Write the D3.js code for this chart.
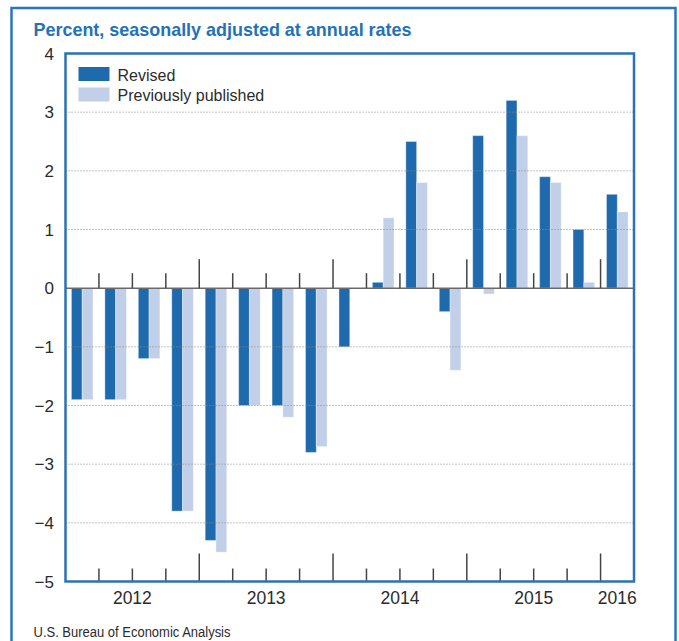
<!DOCTYPE html>
<html>
<head>
<meta charset="utf-8">
<script src="https://cdn.jsdelivr.net/npm/d3@7"></script>
<style>
  html, body { margin: 0; padding: 0; background: #fff; }
  svg { display: block; }
  text { font-family: "Liberation Sans", Arial, Helvetica, sans-serif; }
</style>
</head>
<body>
<svg id="chart" width="679" height="641"></svg>
<script>
// ---- Data ----
const quarters = ["2012 Q1","2012 Q2","2012 Q3","2012 Q4",
                  "2013 Q1","2013 Q2","2013 Q3","2013 Q4",
                  "2014 Q1","2014 Q2","2014 Q3","2014 Q4",
                  "2015 Q1","2015 Q2","2015 Q3","2015 Q4",
                  "2016 Q1"];
const revised   = [-1.9, -1.9, -1.2, -3.8, -4.3, -2.0, -2.0, -2.8, -1.0, 0.1, 2.5, -0.4, 2.6, 3.2, 1.9, 1.0, 1.6];
const previous  = [-1.9, -1.9, -1.2, -3.8, -4.5, -2.0, -2.2, -2.7,  0.0, 1.2, 1.8, -1.4, -0.1, 2.6, 1.8, 0.1, 1.3];
const years     = ["2012", "2013", "2014", "2015", "2016"];
const yTicks    = [-5, -4, -3, -2, -1, 0, 1, 2, 3, 4];
const seriesNames = ["Revised", "Previously published"];
const title = "Percent, seasonally adjusted at annual rates";
const source = "U.S. Bureau of Economic Analysis";

// ---- Layout ----
const svg = d3.select("#chart");
const plot = { left: 65.5, right: 634, top: 53.5, bottom: 581.5 };
const colors = { rev: "#1f6aad", prev: "#c1cfe8", blue: "#2a76ba", text: "#2b2b2b" };

const x = d3.scaleBand().domain(quarters).range([plot.left, plot.right]).padding(0);
const xs = d3.scaleBand().domain(["rev", "prev"]).range([0, x.bandwidth()])
  .paddingInner(0).paddingOuter(0.55);
const y = d3.scaleLinear().domain([-5, 4]).range([plot.bottom, plot.top]);

// outer frame
svg.append("rect")
  .attr("x", 11.5).attr("y", 8).attr("width", 664).attr("height", 700)
  .attr("fill", "none").attr("stroke", colors.blue).attr("stroke-width", 2.5);

// title
svg.append("text")
  .attr("x", 33.5).attr("y", 36)
  .attr("font-size", 19).attr("font-weight", "bold")
  .attr("fill", "#2372b7")
  .attr("textLength", 378).attr("lengthAdjust", "spacingAndGlyphs")
  .text(title);

// bars
const data = quarters.map((q, i) => ({ q, rev: revised[i], prev: previous[i] }));
const g = svg.append("g");
["rev", "prev"].forEach(key => {
  g.selectAll("rect." + key).data(data).enter().append("rect")
    .attr("class", key)
    .attr("x", d => x(d.q) + xs(key))
    .attr("width", xs.bandwidth())
    .attr("y", d => y(Math.max(0, d[key])))
    .attr("height", d => Math.abs(y(d[key]) - y(0)))
    .attr("fill", colors[key])
    .attr("stroke", "#ffffff").attr("stroke-opacity", 0.35).attr("stroke-width", 1);
});

// gridlines (dotted, over bars)
svg.append("g").selectAll("line").data(yTicks.filter(t => t !== 0 && t !== -5 && t !== 4))
  .enter().append("line")
  .attr("x1", plot.left).attr("x2", plot.right)
  .attr("y1", d => y(d)).attr("y2", d => y(d))
  .attr("stroke", "#8a8a8a").attr("stroke-width", 1)
  .attr("stroke-dasharray", "1,2");

// zero line
svg.append("line")
  .attr("x1", plot.left).attr("x2", plot.right)
  .attr("y1", y(0)).attr("y2", y(0))
  .attr("stroke", "#6a6a6a").attr("stroke-width", 1.5);

// quarter/year tick marks at group boundaries
const bounds = quarters.slice(1).map((q, i) => ({ xpos: x(q), year: (i + 1) % 4 === 0 }));
const tickG = svg.append("g").attr("stroke", "#444").attr("stroke-width", 1.5);
tickG.selectAll("line.zt").data(bounds).enter().append("line")
  .attr("class", "zt")
  .attr("x1", d => d.xpos).attr("x2", d => d.xpos)
  .attr("y1", y(0)).attr("y2", d => y(0) - (d.year ? 29 : 15));
tickG.selectAll("line.bt").data(bounds).enter().append("line")
  .attr("class", "bt")
  .attr("x1", d => d.xpos).attr("x2", d => d.xpos)
  .attr("y1", plot.bottom).attr("y2", d => plot.bottom - (d.year ? 28 : 13));

// plot border
svg.append("rect")
  .attr("x", plot.left).attr("y", plot.top)
  .attr("width", plot.right - plot.left).attr("height", plot.bottom - plot.top)
  .attr("fill", "none").attr("stroke", "#2a72b5").attr("stroke-width", 2.5);

// y axis labels
svg.append("g").selectAll("text").data(yTicks).enter().append("text")
  .attr("x", 54).attr("y", d => y(d)).attr("dy", "0.36em")
  .attr("text-anchor", "end").attr("font-size", 17).attr("fill", colors.text)
  .text(d => d < 0 ? "\u2212" + Math.abs(d) : String(d));

// year labels centred under their quarters
svg.append("g").selectAll("text").data(years).enter().append("text")
  .attr("x", yr => {
    const qs = quarters.filter(q => q.startsWith(yr));
    return (x(qs[0]) + x(qs[qs.length - 1]) + x.bandwidth()) / 2;
  })
  .attr("y", 604)
  .attr("text-anchor", "middle").attr("font-size", 17.5).attr("fill", colors.text)
  .text(d => d);

// legend
const legend = svg.append("g");
["rev", "prev"].forEach((key, i) => {
  legend.append("rect")
    .attr("x", 78.5).attr("y", 67 + i * 20.5)
    .attr("width", 31).attr("height", 14)
    .attr("fill", colors[key]);
  legend.append("text")
    .attr("x", 117.5).attr("y", 81 + i * 19.5)
    .attr("font-size", 16).attr("fill", colors.text)
    .text(seriesNames[i]);
});

// source
svg.append("text")
  .attr("x", 33.5).attr("y", 637)
  .attr("font-size", 14).attr("fill", colors.text)
  .attr("textLength", 197).attr("lengthAdjust", "spacingAndGlyphs")
  .text(source);
</script>
</body>
</html>
